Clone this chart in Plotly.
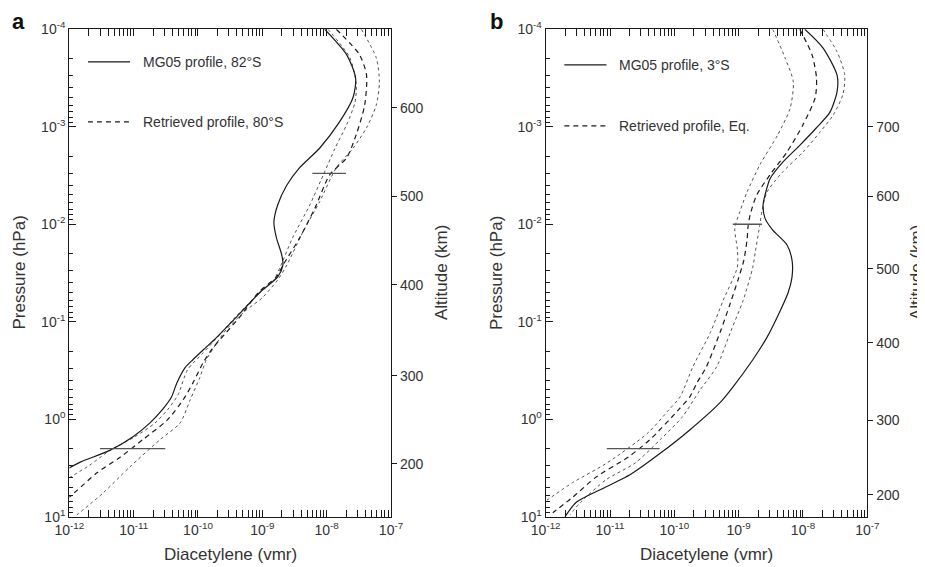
import numpy as np
import plotly.graph_objects as go

# ---- panel a: 82°S / 80°S  (log10 of vmr and log10 of pressure in hPa) ----
a_mg05_logx = [-8.03, -7.69, -7.55, -7.59, -7.80, -8.11, -8.42, -8.62, -8.76, -8.82, -8.78, -8.70, -8.68, -8.76,
               -9.04, -9.40, -9.71, -9.92, -10.08, -10.20, -10.33, -10.41, -10.55, -10.75, -11.01, -11.37, -11.83, -12.0]
a_mg05_logp = [-4.00, -3.74, -3.50, -3.30, -3.05, -2.78, -2.58, -2.40, -2.20, -2.02, -1.86, -1.69, -1.58, -1.46,
               -1.30, -1.05, -0.84, -0.71, -0.61, -0.53, -0.37, -0.23, -0.10, 0.04, 0.18, 0.32, 0.44, 0.50]

a_ret_logx = [-7.85, -7.49, -7.38, -7.41, -7.54, -7.69, -7.95, -8.18, -8.42, -8.68, -8.78, -9.06, -9.35, -9.56,
              -9.77, -9.92, -10.08, -10.23, -10.48, -10.86, -11.21, -11.57, -11.88, -12.0]
a_ret_logp = [-4.00, -3.74, -3.53, -3.22, -2.92, -2.68, -2.51, -2.17, -1.86, -1.58, -1.46, -1.30, -1.05, -0.89,
              -0.73, -0.58, -0.37, -0.20, 0.01, 0.21, 0.39, 0.55, 0.73, 0.80]

a_lo_logx = [-7.98, -7.64, -7.54, -7.56, -7.69, -7.87, -8.03, -8.26, -8.53, -8.73, -8.82, -9.07, -9.43, -9.74,
             -9.92, -10.16, -10.31, -10.47, -10.67, -10.98, -11.37, -11.68, -12.0]
a_lo_logp = [-4.00, -3.71, -3.43, -3.25, -3.02, -2.78, -2.54, -2.20, -1.86, -1.55, -1.43, -1.28, -1.04, -0.81,
             -0.68, -0.51, -0.25, -0.10, 0.04, 0.18, 0.32, 0.47, 0.60]

a_hi_logx = [-7.46, -7.23, -7.18, -7.23, -7.38, -7.59, -7.85, -8.11, -8.37, -8.62, -8.76, -9.01, -9.25, -9.56,
             -9.71, -9.87, -9.97, -10.12, -10.28, -10.59, -11.06, -11.48, -11.88]
a_hi_logp = [-4.00, -3.71, -3.46, -3.22, -2.99, -2.78, -2.58, -2.23, -1.92, -1.58, -1.43, -1.24, -1.12, -0.92,
             -0.78, -0.61, -0.43, -0.20, 0.04, 0.21, 0.49, 0.76, 0.98]

a_bar_p = [3.0e-3, 2.0]
a_bar_lo = [6.0e-9, 3.0e-12]
a_bar_hi = [2.0e-8, 3.1e-11]

a_alt_km = [200, 300, 400, 500, 600]
a_alt_p = [2.87, 0.357, 0.0417, 5.2e-3, 6.4e-4]

# ---- panel b: 3°S / Eq. ----
b_mg05_logx = [-7.97, -7.69, -7.47, -7.47, -7.58, -7.79, -8.05, -8.31, -8.51, -8.59, -8.62, -8.59, -8.47, -8.25,
               -8.17, -8.17, -8.23, -8.37, -8.56, -8.78, -9.09, -9.29, -9.76, -10.22, -10.69, -11.05, -11.52, -11.70]
b_mg05_logp = [-4.00, -3.81, -3.53, -3.36, -3.15, -2.99, -2.81, -2.64, -2.47, -2.30, -2.20, -2.06, -1.94, -1.79,
               -1.63, -1.46, -1.30, -1.09, -0.84, -0.61, -0.33, -0.17, 0.11, 0.35, 0.57, 0.69, 0.85, 1.00]

b_ret_logx = [-8.05, -7.86, -7.79, -7.81, -8.00, -8.25, -8.51, -8.72, -8.82, -8.85, -8.87, -8.92, -9.01, -9.13,
              -9.29, -9.50, -9.65, -9.76, -9.93, -10.38, -10.72, -11.21, -11.58, -11.89]
b_ret_logp = [-4.00, -3.74, -3.50, -3.30, -3.02, -2.74, -2.51, -2.30, -2.10, -2.00, -1.84, -1.63, -1.43, -1.19,
              -0.89, -0.54, -0.37, -0.23, -0.10, 0.21, 0.39, 0.59, 0.80, 0.96]

b_lo_logx = [-8.47, -8.28, -8.15, -8.20, -8.39, -8.67, -8.87, -8.98, -9.06, -9.02, -9.02, -9.24, -9.44, -9.71,
             -9.91, -10.08, -10.41, -11.05, -11.58, -11.98]
b_lo_logp = [-4.00, -3.71, -3.46, -3.19, -2.92, -2.61, -2.33, -2.13, -1.96, -1.74, -1.56, -1.22, -0.89, -0.54,
             -0.23, -0.10, 0.14, 0.45, 0.65, 0.83]

b_hi_logx = [-7.69, -7.47, -7.35, -7.38, -7.53, -7.73, -8.00, -8.31, -8.56, -8.64, -8.67, -8.69, -8.74, -8.78,
             -8.93, -9.13, -9.34, -9.60, -9.88, -10.22, -10.61, -11.06, -11.47, -11.62]
b_hi_logp = [-4.00, -3.77, -3.53, -3.33, -3.12, -2.95, -2.74, -2.54, -2.33, -2.13, -2.00, -1.92, -1.72, -1.56,
             -1.22, -0.89, -0.54, -0.30, -0.02, 0.21, 0.45, 0.62, 0.86, 0.98]

b_bar_p = [1.0e-2, 2.0]
b_bar_lo = [8.1e-10, 8.9e-12]
b_bar_hi = [2.3e-9, 5.9e-11]

b_alt_km = [200, 300, 400, 500, 600, 700]
b_alt_p = [5.97, 1.02, 0.165, 0.0287, 5.2e-3, 1.0e-3]

legend_a = ["MG05 profile, 82°S", "Retrieved profile, 80°S"]
legend_b = ["MG05 profile, 3°S", "Retrieved profile, Eq."]

x_dec = [1e-12, 1e-11, 1e-10, 1e-9, 1e-8, 1e-7]
x_dec_txt = ["10<sup>-12</sup>", "10<sup>-11</sup>", "10<sup>-10</sup>", "10<sup>-9</sup>", "10<sup>-8</sup>", "10<sup>-7</sup>"]
p_dec = [1e-4, 1e-3, 1e-2, 1e-1, 1e0, 1e1]
p_dec_txt = ["10<sup>-4</sup>", "10<sup>-3</sup>", "10<sup>-2</sup>", "10<sup>-1</sup>", "10<sup>0</sup>", "10<sup>1</sup>"]
x_minor = [m * d for d in x_dec[:-1] for m in range(2, 10)]
p_minor = [m * d for d in p_dec[:-1] for m in range(2, 10)]

FONT = "Liberation Sans, Arial, sans-serif"
TXT = "#333333"
INK = "#1a1a1a"
GREY = "#555555"

# the page body adds an 8px margin, so the figure is 8px smaller and
# window pixel positions are converted to paper fractions here
W, H, OFF = 917, 559, 8


def fx(px):
    return (px - OFF) / W


def fy(py):
    return 1 - (py - OFF) / H


fig = go.Figure()


def profile(xa, ya, logx, logp, dash, color, width):
    fig.add_trace(go.Scatter(
        x=10 ** np.array(logx), y=10 ** np.array(logp), mode="lines",
        line=dict(color=color, width=width, dash=dash, shape="spline", smoothing=0.7),
        xaxis=xa, yaxis=ya, showlegend=False, hoverinfo="skip"))


def bars(xa, ya, p, lo, hi):
    xs, ys = [], []
    for pp, l, h in zip(p, lo, hi):
        xs += [l, h, None]
        ys += [pp, pp, None]
    fig.add_trace(go.Scatter(x=xs, y=ys, mode="lines", line=dict(color=GREY, width=1.3),
                             xaxis=xa, yaxis=ya, showlegend=False, hoverinfo="skip"))


DASH = "5px,4px"
profile("x", "y", a_lo_logx, a_lo_logp, "dot", GREY, 1)
profile("x", "y", a_hi_logx, a_hi_logp, "dot", GREY, 1)
profile("x", "y", a_ret_logx, a_ret_logp, DASH, INK, 1.2)
profile("x", "y", a_mg05_logx, a_mg05_logp, "solid", INK, 1.2)
# bars go on the altitude axis (same log range as pressure) so that axis is drawn
bars("x", "y2", a_bar_p, a_bar_lo, a_bar_hi)

profile("x2", "y3", b_lo_logx, b_lo_logp, "dot", GREY, 1)
profile("x2", "y3", b_hi_logx, b_hi_logp, "dot", GREY, 1)
profile("x2", "y3", b_ret_logx, b_ret_logp, DASH, INK, 1.2)
profile("x2", "y3", b_mg05_logx, b_mg05_logp, "solid", INK, 1.2)
bars("x2", "y4", b_bar_p, b_bar_lo, b_bar_hi)

ydom = [fy(516.7), fy(29.3)]
tickfont = dict(family=FONT, size=14, color=TXT)


def xaxis(dom, anchor):
    return dict(domain=dom, anchor=anchor, type="log", range=[-12, -7],
                tickmode="array", tickvals=x_dec, ticktext=x_dec_txt, tickfont=tickfont,
                ticks="inside", ticklen=7, tickcolor=INK, showline=True, linecolor=INK, linewidth=1.2,
                mirror="allticks", showgrid=False, zeroline=False,
                minor=dict(tickmode="array", tickvals=x_minor, ticks="inside", ticklen=4, tickcolor=INK, showgrid=False))


def paxis(anchor):
    return dict(domain=ydom, anchor=anchor, type="log", range=[1, -4],
                tickmode="array", tickvals=p_dec, ticktext=p_dec_txt, tickfont=tickfont,
                ticks="inside", ticklen=7, tickcolor=INK, showline=True, linecolor=INK, linewidth=1.2,
                showgrid=False, zeroline=False,
                minor=dict(tickmode="array", tickvals=p_minor, ticks="inside", ticklen=4, tickcolor=INK, showgrid=False))


def altaxis(over, anchor, km, p):
    return dict(overlaying=over, anchor=anchor, side="right", type="log", range=[1, -4],
                tickmode="array", tickvals=p, ticktext=[str(k) for k in km], tickfont=tickfont,
                ticks="outside", ticklen=5, tickcolor=INK, showline=True, linecolor=INK, linewidth=1.2,
                showgrid=False, zeroline=False)


fig.update_layout(
    width=W, height=H, margin=dict(l=0, r=0, t=0, b=0, autoexpand=False),
    paper_bgcolor="white", plot_bgcolor="white", showlegend=False,
    font=dict(family=FONT, color=TXT),
    xaxis=xaxis([fx(69.3), fx(391)], "y"),
    yaxis=paxis("x"),
    yaxis2=altaxis("y", "x", a_alt_km, a_alt_p),
    xaxis2=xaxis([fx(545.7), fx(867.3)], "y3"),
    yaxis3=paxis("x2"),
    yaxis4=altaxis("y3", "x2", b_alt_km, b_alt_p),
)

# legend samples and text, panel letters, axis titles
anns = []
shapes = []
for xref, yref, labels, rows in [("x domain", "y domain", legend_a, [0.933, 0.810]),
                                 ("x2 domain", "y3 domain", legend_b, [0.927, 0.802])]:
    for lab, yy, dash in zip(labels, rows, ["solid", "dash"]):
        shapes.append(dict(type="line", xref=xref, yref=yref, x0=0.058, x1=0.189, y0=yy, y1=yy,
                           line=dict(color=INK, width=1.2, dash=DASH if dash == "dash" else "solid")))
        anns.append(dict(xref=xref, yref=yref, x=0.222, y=yy, text=lab, showarrow=False,
                         xanchor="left", yanchor="middle", font=dict(family=FONT, size=14, color=TXT)))

title_font = dict(family=FONT, size=17, color=TXT)
for x, t in [(18, "a"), (496, "b")]:
    anns.append(dict(xref="paper", yref="paper", x=fx(x), y=fy(8), text="<b>" + t + "</b>",
                     showarrow=False, xanchor="center", yanchor="top", borderpad=0,
                     font=dict(family=FONT, size=22, color="#111111")))
for x in [18.5, 496]:
    anns.append(dict(xref="paper", yref="paper", x=fx(x), y=fy(273), text="Pressure (hPa)",
                     textangle=-90, showarrow=False, xanchor="center", yanchor="middle", font=title_font))
for x in [441, 916]:
    anns.append(dict(xref="paper", yref="paper", x=fx(x), y=fy(273), text="Altitude (km)",
                     textangle=-90, showarrow=False, xanchor="center", yanchor="middle", font=title_font))
for x in [230, 706]:
    anns.append(dict(xref="paper", yref="paper", x=fx(x), y=fy(554), text="Diacetylene (vmr)",
                     showarrow=False, xanchor="center", yanchor="middle", font=title_font))

fig.update_layout(annotations=anns, shapes=shapes)
fig.write_html("out.html")
